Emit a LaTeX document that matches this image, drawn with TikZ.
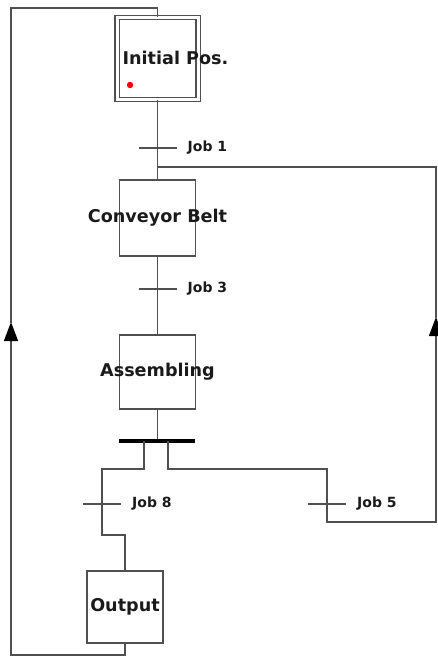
\documentclass[tikz,border=0pt]{standalone}
\usepackage{fontspec}
\setmainfont{DejaVu Sans}
\usetikzlibrary{arrows.meta,positioning}
\definecolor{cWire}{HTML}{505050}
\definecolor{cInk}{HTML}{1A1A1A}
\definecolor{cMark}{HTML}{F00000}
\tikzset{
  steplbl/.style={font=\fontsize{17.6}{20}\selectfont\bfseries,text=cInk,inner sep=0pt},
  stepbox/.style={draw=cWire,line width=1.4pt,minimum width=76pt,minimum height=76pt,inner sep=0pt,label={[steplbl]center:#1}},
  stepbox/.default={},
  initbox/.style={draw=cWire,line width=1.4pt,double=white,double distance=3pt,minimum width=81pt,minimum height=82pt,inner sep=0pt},
  wire/.style={draw=cWire,line width=1.4pt},
  up/.style={wire,-{Triangle[length=19pt,width=14pt,black]},shorten >=-1pt},
  bar/.style={draw=cWire,line width=1.4pt},
  sync/.style={draw=black,line width=3.6pt},
  joblbl/.style={font=\fontsize{14}{16}\selectfont\bfseries,text=cInk,anchor=west,inner sep=0pt},
}
\begin{document}
\begin{tikzpicture}[x=1pt,y=-1pt]
  \useasboundingbox (0,0) rectangle (438,657);
  % steps
  \node[initbox] (init) at (157.5,58.5) {};
  \node[steplbl] (initlbl) at (175.5,58) {Initial Pos.};
  \fill[cMark] (130,85) circle (3.2pt);
  \node[stepbox=Conveyor Belt,minimum height=76pt] (conv) at (157.5,218) {};
  \node[stepbox=Assembling,minimum height=74pt] (asm) at (157.5,372) {};
  \node[stepbox=Output,minimum height=72pt] (out) at (125,607) {};
  % points of the wiring
  \coordinate (t1) at (157.5,148);
  \coordinate (j1) at (157.5,167);
  \coordinate (t3) at (157.5,289);
  \coordinate (sy) at (157.5,441);
  \coordinate (sl) at (144,441);
  \coordinate (sr) at (168,441);
  \coordinate (t8) at (102,504);
  \coordinate (t5) at (327,504);
  \coordinate (top) at (11,8);
  \coordinate (bot) at (11,655);
  \coordinate (la) at (11,323);
  \coordinate (ra) at (436,318);
  % main line
  \draw[wire] (init.south) -- (conv.north);
  \draw[wire] (conv.south) -- (asm.north);
  \draw[wire] (asm.south) -- (sy);
  \draw[sync] (119,441) -- (195,441);
  % left branch
  \draw[wire] (sl) -- (144,469) -- (102,469) -- (t8) -- (102,535) -- (125,535) -- (out.north);
  % right branch back to Job 1
  \draw[wire] (sr) -- (168,469) -- (327,469) -- (t5) -- (327,522) -- (436,522) -- (436,337);
  \draw[up] (436,345) -- (ra);
  \draw[wire] (ra) -- (436,167) -- (j1);
  % loop back to initial step
  \draw[wire] (out.south) -- (125,655) -- (bot) -- (11,350);
  \draw[up] (11,350) -- (la);
  \draw[wire] (la) -- (top) -- (157.5,8) -- (init.north);
  % transitions
  \foreach \t/\n in {t1/1,t3/3,t8/8,t5/5}
    {\draw[bar] ([xshift=-19pt]\t) -- ([xshift=19pt]\t);
     \node[joblbl] (lbl\n) at ([xshift=30pt]\t) {Job \n};}
\end{tikzpicture}
\end{document}
